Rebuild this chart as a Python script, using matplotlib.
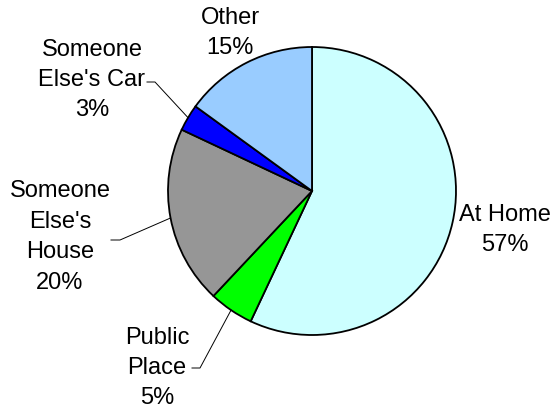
import matplotlib.pyplot as plt
import numpy as np

plt.rcParams['font.family'] = ['Liberation Sans', 'DejaVu Sans']

# data
labels = ["At Home", "Public\nPlace", "Someone\nElse's\nHouse", "Someone\nElse's Car", "Other"]
values = [57, 5, 20, 3, 15]
colors = ['#CCFFFF', '#00FF00', '#969696', '#0000FF', '#99CCFF']

# layout in pixels (y measured from top)
W, H = 552, 413
cx, cy, r = 312, 191, 144
label_pos = [(505, 230), (157, 368), (60, 237), (92, 80), (230, 33)]
# leader lines: text end x, elbow x, y (None = no leader)
elbow = [None, (192, 200, 368), (111, 120, 240), (147, 155, 82), None]

fig = plt.figure(figsize=(W / 100, H / 100), dpi=100)
ax = fig.add_axes([0, 0, 1, 1])

wedges, _ = ax.pie(values, colors=colors, startangle=90, counterclock=False,
                   center=(cx, H - cy), radius=r,
                   wedgeprops=dict(edgecolor='black', linewidth=1.3))
ax.set_xlim(0, W)
ax.set_ylim(0, H)
ax.set_aspect('auto')
ax.axis('off')

for w, lab, v, pos, el in zip(wedges, labels, values, label_pos, elbow):
    ax.text(pos[0], H - pos[1], f"{lab}\n{v}%", ha='center', va='center',
            fontsize=17, linespacing=1.5)
    if el is not None:
        ang = np.deg2rad((w.theta1 + w.theta2) / 2)
        ex = cx + r * np.cos(ang)
        ey = (H - cy) + r * np.sin(ang)
        x0, x1, yy = el
        ax.plot([x0, x1, ex], [H - yy, H - yy, ey], color='black', lw=0.7)

fig.savefig('out.png', dpi=100)
